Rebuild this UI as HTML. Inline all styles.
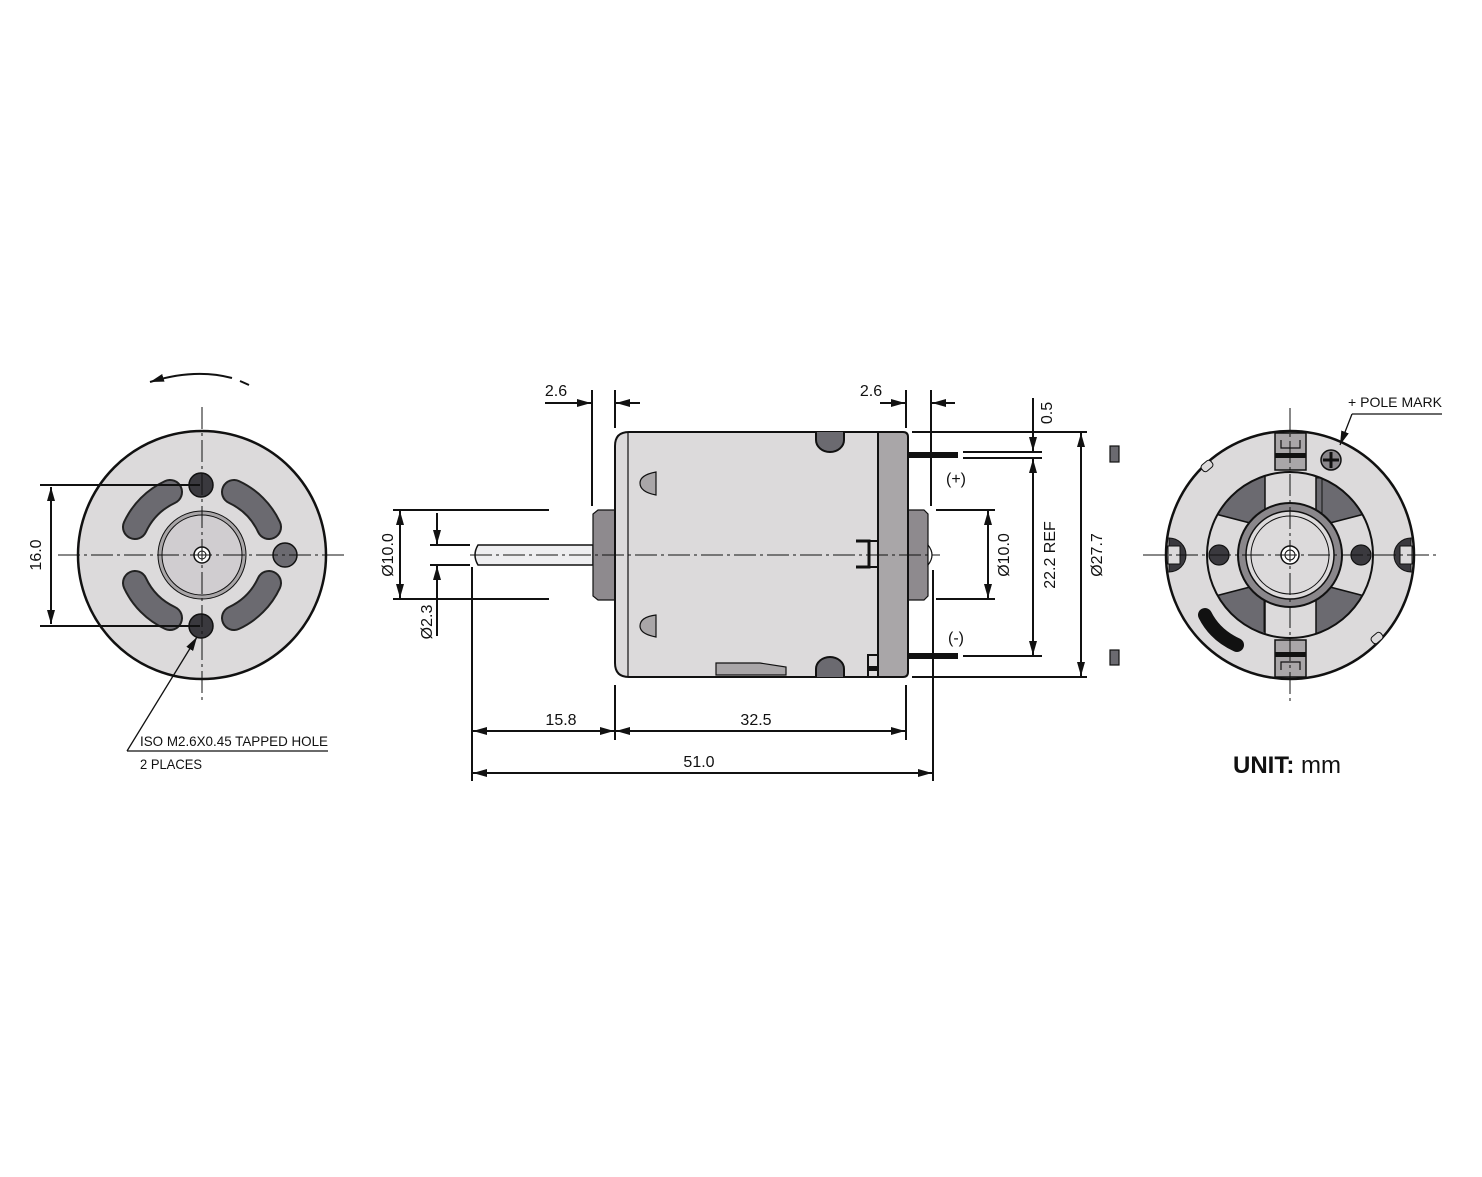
<!DOCTYPE html>
<html><head><meta charset="utf-8"><style>
html,body{margin:0;padding:0;background:#fff;}
svg{display:block;}
text{font-family:"Liberation Sans",sans-serif;fill:#111;}
</style></head><body>
<svg width="1482" height="1177" viewBox="0 0 1482 1177" xmlns="http://www.w3.org/2000/svg">
<defs>
<marker id="ae" markerWidth="14" markerHeight="8" refX="14" refY="4" orient="auto" markerUnits="userSpaceOnUse"><path d="M0,0 L14,4 L0,8 Z" fill="#111"/></marker>
<marker id="as" markerWidth="14" markerHeight="8" refX="0" refY="4" orient="auto" markerUnits="userSpaceOnUse"><path d="M14,0 L0,4 L14,8 Z" fill="#111"/></marker>
<clipPath id="ann"><circle cx="1290" cy="555" r="83"/></clipPath>
</defs>
<rect width="1482" height="1177" fill="#fff"/>

<!-- ============ LEFT VIEW ============ -->
<g stroke="#111">
<circle cx="202" cy="555" r="124" fill="#dcdadb" stroke-width="2.5"/>
<g fill="none" stroke-linecap="round">
<path d="M135,527 A72,72 0 0 1 170,492" stroke="#222" stroke-width="26"/>
<path d="M135,527 A72,72 0 0 1 170,492" stroke="#6b6a70" stroke-width="22"/>
<path d="M234,492 A72,72 0 0 1 269,527" stroke="#222" stroke-width="26"/>
<path d="M234,492 A72,72 0 0 1 269,527" stroke="#6b6a70" stroke-width="22"/>
<path d="M135,583 A72,72 0 0 0 170,618" stroke="#222" stroke-width="26"/>
<path d="M135,583 A72,72 0 0 0 170,618" stroke="#6b6a70" stroke-width="22"/>
<path d="M234,618 A72,72 0 0 0 269,583" stroke="#222" stroke-width="26"/>
<path d="M234,618 A72,72 0 0 0 269,583" stroke="#6b6a70" stroke-width="22"/>
</g>
<circle cx="202" cy="555" r="44" fill="#a9a6a8" stroke-width="1"/>
<circle cx="202" cy="555" r="40" fill="#d0cdd0" stroke-width="1"/>
<circle cx="202" cy="555" r="8" fill="#fff" stroke-width="1.5"/>
<circle cx="202" cy="555" r="4" fill="#fff" stroke-width="1"/>
<circle cx="201" cy="485" r="12" fill="#3a393e" stroke-width="1.5"/>
<circle cx="201" cy="626" r="12" fill="#3a393e" stroke-width="1.5"/>
<circle cx="285" cy="555" r="12" fill="#6b6a70" stroke-width="1.5"/>
</g>
<g stroke="#111" stroke-width="1" stroke-dasharray="22,4,3,4" fill="none">
<line x1="202" y1="407" x2="202" y2="703"/>
<line x1="58" y1="555" x2="348" y2="555"/>
</g>
<g stroke="#111" stroke-width="2" fill="none">
<line x1="40" y1="485" x2="200" y2="485"/>
<line x1="40" y1="626" x2="200" y2="626"/>
<line x1="51" y1="487" x2="51" y2="624" marker-start="url(#as)" marker-end="url(#ae)"/>
<path d="M150,382 Q195,368 232,378" marker-start="url(#as)" stroke-width="2"/>
<line x1="240" y1="381" x2="249" y2="385"/>
<path d="M127,751 L197,637" stroke-width="1.3" marker-end="url(#ae)"/>
<line x1="127" y1="751" x2="328" y2="751" stroke-width="1.3"/>
</g>
<text x="41" y="555" font-size="16" transform="rotate(-90 41 555)" text-anchor="middle">16.0</text>
<text x="140" y="746" font-size="14" textLength="188" lengthAdjust="spacingAndGlyphs">ISO M2.6X0.45 TAPPED HOLE</text>
<text x="140" y="769" font-size="14" textLength="62" lengthAdjust="spacingAndGlyphs">2 PLACES</text>

<!-- ============ MIDDLE VIEW ============ -->
<g stroke="#111" stroke-width="2">
<!-- shaft -->
<path d="M593,545 L478,545 Q472,555 478,565 L593,565 Z" fill="#eeeef0" stroke-width="1.5"/>
<!-- front boss -->
<path d="M598,510 L615,510 L615,600 L598,600 L593,596 L593,514 Z" fill="#8e8a8e" stroke-width="1.2"/>
<!-- rear boss -->
<path d="M908,510 L924,510 L928,514 L928,596 L924,600 L908,600 Z" fill="#8e8a8e" stroke-width="1.2"/>
<path d="M928,545 Q936,555 928,565 Z" fill="#fff" stroke-width="1.2"/>
<!-- terminals -->
<rect x="908" y="452" width="50" height="6" fill="#111" stroke="none"/>
<rect x="908" y="653" width="50" height="6" fill="#111" stroke="none"/>
<!-- body -->
<path d="M629,432 L880,432 L880,677 L629,677 Q615,677 615,663 L615,446 Q615,432 629,432 Z" fill="#dcdadb"/>
<line x1="628" y1="432" x2="628" y2="677" stroke-width="1.2"/>
<!-- end cap -->
<path d="M878,432 L903,432 Q908,432 908,437 L908,672 Q908,677 903,677 L878,677 Z" fill="#a9a6a8"/>
<!-- notches -->
<path d="M816,432 L816,440 A14,12 0 0 0 844,440 L844,432" fill="#6b6a70"/>
<path d="M816,677 L816,669 A14,12 0 0 1 844,669 L844,677" fill="#6b6a70"/>
<!-- brush bracket -->
<path d="M856,541 L869,541 L869,567 L856,567" fill="none" stroke-width="3"/>
<path d="M869,541 L878,541 M869,567 L878,567" stroke-width="2"/>
<rect x="868" y="655" width="10" height="22" fill="#dcdadb" stroke-width="2"/>
<rect x="868" y="666" width="10" height="5" fill="#111" stroke="none"/>
<!-- D shapes -->
<path d="M656,472 L656,495 Q640,492 640,483 Q640,475 656,472 Z" fill="#a9a6a8" stroke-width="1.2"/>
<path d="M656,615 L656,637 Q640,634 640,626 Q640,617 656,615 Z" fill="#a9a6a8" stroke-width="1.2"/>
<!-- trapezoid -->
<path d="M716,663 L760,663 L786,667 L786,675 L716,675 Z" fill="#a9a6a8" stroke-width="1.2"/>
</g>
<g stroke="#111" stroke-width="1" stroke-dasharray="22,4,3,4" fill="none">
<line x1="470" y1="555" x2="940" y2="555"/>
</g>
<g stroke="#111" stroke-width="2" fill="none">
<!-- 2.6 left -->
<line x1="592" y1="390" x2="592" y2="506"/>
<line x1="615" y1="390" x2="615" y2="428"/>
<line x1="545" y1="403" x2="591" y2="403" marker-end="url(#ae)"/>
<line x1="640" y1="403" x2="616" y2="403" marker-end="url(#ae)"/>
<!-- 2.6 right -->
<line x1="906" y1="390" x2="906" y2="428"/>
<line x1="931" y1="390" x2="931" y2="506"/>
<line x1="880" y1="403" x2="905" y2="403" marker-end="url(#ae)"/>
<line x1="955" y1="403" x2="932" y2="403" marker-end="url(#ae)"/>
<!-- extension lines right -->
<line x1="912" y1="432" x2="1087" y2="432"/>
<line x1="912" y1="677" x2="1087" y2="677"/>
<line x1="963" y1="452" x2="1042" y2="452"/>
<line x1="963" y1="458" x2="1042" y2="458"/>
<line x1="963" y1="656" x2="1042" y2="656"/>
<line x1="936" y1="510" x2="995" y2="510"/>
<line x1="936" y1="599" x2="995" y2="599"/>
<line x1="1033" y1="398" x2="1033" y2="451" marker-end="url(#ae)"/>
<line x1="1033" y1="459" x2="1033" y2="655" marker-start="url(#as)" marker-end="url(#ae)"/>
<line x1="1081" y1="433" x2="1081" y2="676" marker-start="url(#as)" marker-end="url(#ae)"/>
<line x1="988" y1="511" x2="988" y2="598" marker-start="url(#as)" marker-end="url(#ae)"/>
<!-- left dims -->
<line x1="393" y1="510" x2="549" y2="510"/>
<line x1="393" y1="599" x2="549" y2="599"/>
<line x1="400" y1="511" x2="400" y2="598" marker-start="url(#as)" marker-end="url(#ae)"/>
<line x1="430" y1="545" x2="470" y2="545"/>
<line x1="430" y1="565" x2="470" y2="565"/>
<line x1="437" y1="513" x2="437" y2="544" marker-end="url(#ae)"/>
<line x1="437" y1="636" x2="437" y2="566" marker-end="url(#ae)"/>
<!-- bottom dims -->
<line x1="472" y1="567" x2="472" y2="781"/>
<line x1="615" y1="685" x2="615" y2="740"/>
<line x1="906" y1="685" x2="906" y2="740"/>
<line x1="933" y1="570" x2="933" y2="781"/>
<line x1="473" y1="731" x2="614" y2="731" marker-start="url(#as)" marker-end="url(#ae)"/>
<line x1="616" y1="731" x2="905" y2="731" marker-start="url(#as)" marker-end="url(#ae)"/>
<line x1="473" y1="773" x2="932" y2="773" marker-start="url(#as)" marker-end="url(#ae)"/>
</g>
<rect x="1110" y="446" width="9" height="16" fill="#6b6a70" stroke="#111" stroke-width="1.2"/>
<rect x="1110" y="650" width="9" height="15" fill="#6b6a70" stroke="#111" stroke-width="1.2"/>
<g font-size="16">
<text x="556" y="396" text-anchor="middle">2.6</text>
<text x="871" y="396" text-anchor="middle">2.6</text>
<text x="956" y="484" text-anchor="middle">(+)</text>
<text x="956" y="643" text-anchor="middle">(-)</text>
<text x="561" y="725" text-anchor="middle">15.8</text>
<text x="756" y="725" text-anchor="middle">32.5</text>
<text x="699" y="767" text-anchor="middle">51.0</text>
<text x="1052" y="413" text-anchor="middle" transform="rotate(-90 1052 413)">0.5</text>
<text x="1055" y="555" text-anchor="middle" transform="rotate(-90 1055 555)">22.2 REF</text>
<text x="1102" y="555" text-anchor="middle" transform="rotate(-90 1102 555)">Ø27.7</text>
<text x="1009" y="555" text-anchor="middle" transform="rotate(-90 1009 555)">Ø10.0</text>
<text x="393" y="555" text-anchor="middle" transform="rotate(-90 393 555)">Ø10.0</text>
<text x="432" y="622" text-anchor="middle" transform="rotate(-90 432 622)">Ø2.3</text>
</g>

<!-- ============ RIGHT VIEW ============ -->
<g stroke="#111" stroke-width="2">
<circle cx="1290" cy="555" r="124" fill="#dcdadb" stroke-width="2.5"/>
<g clip-path="url(#ann)">
<circle cx="1290" cy="555" r="83" fill="#6b6a70" stroke="none"/>
<rect x="1265" y="460" width="51" height="200" fill="#dcdadb" stroke-width="1.5"/>
<path d="M1200,510 L1250,523 L1250,587 L1200,600 Z" fill="#dcdadb" stroke-width="1.5"/>
<path d="M1380,510 L1330,523 L1330,587 L1380,600 Z" fill="#dcdadb" stroke-width="1.5"/>
</g>
<circle cx="1290" cy="555" r="83" fill="none"/>
<path d="M1316,478 L1322,478 L1322,532" fill="none" stroke-width="1"/>
<path d="M1258,578 L1264,578 L1264,632" fill="none" stroke-width="1"/>
<circle cx="1290" cy="555" r="52" fill="#8a878b"/>
<circle cx="1290" cy="555" r="44" fill="#dcdadb" stroke-width="1.5"/>
<circle cx="1290" cy="555" r="39" fill="none" stroke-width="1"/>
<circle cx="1290" cy="555" r="9" fill="#fff" stroke-width="1.5"/>
<circle cx="1290" cy="555" r="5" fill="#fff" stroke-width="1"/>
<circle cx="1219" cy="555" r="10" fill="#3a393e" stroke-width="1.2"/>
<circle cx="1361" cy="555" r="10" fill="#3a393e" stroke-width="1.2"/>
<!-- side notches -->
<path d="M1169,538 A17,17 0 0 1 1169,572 Z" fill="#3a393e" stroke-width="1"/>
<rect x="1168" y="546" width="12" height="18" fill="#dcdadb" stroke-width="1"/>
<path d="M1411,538 A17,17 0 0 0 1411,572 Z" fill="#3a393e" stroke-width="1"/>
<rect x="1400" y="546" width="12" height="18" fill="#dcdadb" stroke-width="1"/>
<!-- tabs -->
<path d="M1275,433 L1306,433 L1306,470 L1275,470 Z" fill="#a9a6a8" stroke-width="1.5"/>
<path d="M1281,440 L1281,448 L1300,448 L1300,440" fill="none" stroke-width="1.2"/>
<rect x="1275" y="453" width="31" height="5" fill="#111" stroke="none"/>
<path d="M1275,640 L1306,640 L1306,677 L1275,677 Z" fill="#a9a6a8" stroke-width="1.5"/>
<path d="M1281,670 L1281,662 L1300,662 L1300,670" fill="none" stroke-width="1.2"/>
<rect x="1275" y="652" width="31" height="5" fill="#111" stroke="none"/>
<!-- pole mark -->
<circle cx="1331" cy="460" r="10" fill="#8a878b" stroke-width="1.5"/>
<path d="M1331,452 L1331,468 M1323,460 L1339,460" stroke-width="3"/>
<!-- black slot -->
<path d="M1205,615 Q1215,635 1237,645" fill="none" stroke="#111" stroke-width="14" stroke-linecap="round"/>
<rect x="1201" y="462" width="12" height="8" rx="3" fill="#dcdadb" stroke-width="1" transform="rotate(-40 1207 466)"/>
<rect x="1371" y="634" width="12" height="8" rx="3" fill="#dcdadb" stroke-width="1" transform="rotate(-40 1377 638)"/>
</g>
<g stroke="#111" stroke-width="1" stroke-dasharray="22,4,3,4" fill="none">
<line x1="1290" y1="408" x2="1290" y2="702"/>
<line x1="1143" y1="555" x2="1438" y2="555"/>
</g>
<g stroke="#111" stroke-width="1.3" fill="none">
<path d="M1352,414 L1340,445" marker-end="url(#ae)"/>
<line x1="1352" y1="414" x2="1442" y2="414"/>
</g>
<text x="1348" y="407" font-size="14" textLength="94" lengthAdjust="spacingAndGlyphs">+ POLE MARK</text>
<text x="1233" y="773" font-size="24"><tspan font-weight="bold">UNIT:</tspan> mm</text>
</svg>
</body></html>
